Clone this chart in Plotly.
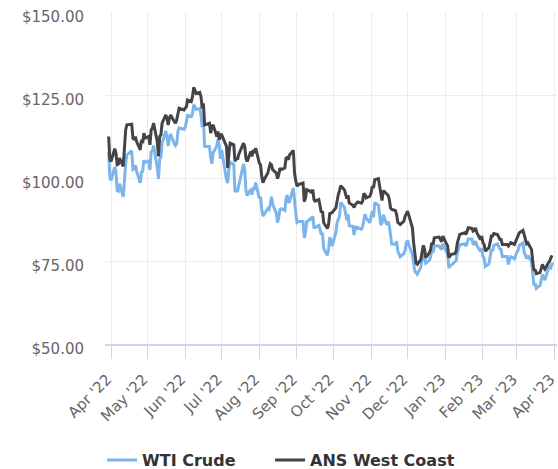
import pandas as pd
import plotly.graph_objects as go

# trading days from 2022-03-30 to 2023-03-31 (NYMEX holidays removed)
HOLIDAYS = [
    "2022-04-15", "2022-05-30", "2022-06-20", "2022-07-04", "2022-09-05",
    "2022-11-24", "2022-12-26", "2023-01-02", "2023-01-16", "2023-02-20",
]
days = pd.bdate_range("2022-03-30", "2023-03-31")
days = days[~days.isin(pd.to_datetime(HOLIDAYS))]

# WTI Crude, $/bbl
wti = [
    107.82, 100.28,
    99.27, 103.28, 101.96, 96.23, 96.03, 98.26, 94.29, 100.60, 104.25, 106.95,
    108.21, 102.56, 102.75, 103.79, 102.07, 98.54, 101.70, 102.02, 105.36, 104.69,
    105.17, 102.41, 107.81, 108.26, 109.77, 103.09, 99.76, 105.71, 106.13, 110.49,
    114.20, 112.40, 109.59, 112.21, 113.23, 110.29, 109.77, 110.33, 114.09, 115.07, 114.67,
    115.26, 116.87, 118.87, 118.50, 119.41, 122.11, 121.51, 120.67, 120.93, 118.93,
    115.31, 117.59, 109.56, 109.52, 106.19, 104.27, 107.62, 109.57, 111.76, 109.78, 105.76,
    108.43, 99.50, 98.53, 102.73, 104.79, 104.09, 95.84, 96.30, 95.78, 97.59,
    102.60, 104.22, 102.26, 96.35, 94.70, 96.70, 94.98, 97.26, 96.42, 98.62,
    93.89, 94.42, 90.66, 88.54, 89.01, 90.76, 90.50, 91.93, 94.34, 92.09, 89.41, 86.53,
    88.11, 90.50, 90.77, 90.23, 93.74, 94.89, 92.52, 93.06, 97.01, 91.64, 89.55,
    86.61, 86.87, 86.88, 81.94, 83.54, 86.79, 87.78, 87.31, 88.48, 85.10, 85.11,
    85.73, 84.45, 82.94, 83.49, 78.74, 76.71, 78.50, 82.15, 81.23, 79.49,
    83.63, 86.52, 87.76, 88.45, 92.64, 91.13, 89.35, 87.27, 89.11, 85.61, 85.46,
    82.82, 85.55, 84.51, 85.05, 84.58, 85.32, 87.91, 89.08, 87.90, 86.53,
    88.37, 90.00, 88.17, 92.61, 91.79, 88.91, 85.83, 86.47, 88.96, 85.87, 86.92,
    85.59, 81.64, 80.08, 80.04, 80.95, 77.94, 76.28, 77.24, 78.20, 80.55,
    81.22, 79.98, 76.93, 74.25, 72.01, 71.46, 71.02, 73.17, 75.39, 77.28, 76.11,
    74.29, 75.19, 76.23, 78.29, 77.49, 79.56, 79.53, 78.96, 78.40, 80.26,
    76.93, 72.84, 73.67, 73.77, 74.63, 75.12, 77.41, 78.39, 79.86, 80.18,
    79.48, 80.33, 81.64, 81.62, 80.13, 80.15, 81.01, 79.68, 77.90, 78.87,
    76.41, 75.88, 73.39, 74.11, 77.14, 78.47, 78.06, 79.72, 80.14, 79.06,
    78.59, 78.49, 76.34, 76.36, 73.95, 75.39, 76.32, 75.68, 77.05,
    77.69, 78.16, 79.68, 80.46, 77.58, 76.66, 75.72, 76.68, 74.80, 71.33, 67.61, 68.35,
    66.74, 67.64, 69.33, 70.90, 69.96, 69.26, 72.81, 73.20, 72.97, 74.37, 73.80,
]

# ANS West Coast, $/bbl (last print is a day earlier)
ans = [
    112.5, 105.5,
    105.0, 108.8, 107.5, 104.0, 104.2, 106.0, 103.5, 110.5, 114.5, 116.0,
    116.2, 112.0, 111.5, 112.5, 111.0, 108.5, 111.5, 110.5, 113.5, 112.0,
    112.5, 110.0, 114.5, 115.0, 116.5, 111.0, 106.5, 112.5, 113.0, 116.5,
    119.0, 118.0, 116.0, 118.0, 119.0, 117.0, 116.5, 117.5, 120.0, 121.0, 120.5,
    121.0, 121.5, 123.5, 123.0, 124.5, 127.3, 126.5, 125.5, 125.8, 124.5,
    121.0, 122.5, 116.0, 116.5, 113.5, 115.5, 116.0, 112.5, 114.0, 111.5, 113.0,
    113.0, 109.5, 103.0, 107.5, 110.5, 110.0, 105.0, 106.0, 105.5, 107.0,
    110.0, 110.5, 109.5, 106.0, 105.0, 108.0, 106.5, 108.5, 107.5, 109.0,
    104.5, 104.0, 100.5, 98.6, 99.5, 101.5, 103.0, 104.3, 104.0, 102.5, 101.5, 99.8,
    101.0, 103.0, 102.5, 103.0, 106.0, 106.2, 105.5, 107.0, 108.3, 101.5, 99.2,
    97.5, 98.0, 98.5, 92.9, 94.0, 96.5, 96.0, 95.5, 96.5, 93.5, 93.0,
    93.5, 92.0, 89.6, 90.0, 86.5, 84.8, 86.0, 89.3, 89.5, 89.6,
    91.0, 93.2, 95.0, 96.2, 97.7, 96.5, 95.0, 93.8, 94.8, 92.5, 91.8,
    91.1, 92.0, 92.6, 92.8, 92.4, 93.0, 95.3, 95.0, 94.0, 94.5,
    95.5, 97.5, 97.0, 99.5, 99.8, 97.5, 94.5, 93.2, 96.2, 95.3, 94.8,
    93.5, 91.0, 90.5, 90.2, 89.0, 86.6, 86.0, 87.0, 88.5, 89.5,
    90.0, 88.8, 85.0, 80.5, 76.0, 74.3, 74.0, 75.5, 77.8, 79.7, 78.5,
    76.0, 77.5, 78.5, 80.5, 80.0, 82.0, 82.2, 81.5, 80.8, 82.5,
    79.5, 76.0, 76.5, 77.0, 77.2, 78.0, 80.5, 81.5, 83.0, 83.5,
    83.0, 84.0, 85.0, 84.8, 84.0, 84.2, 85.0, 83.5, 81.5, 82.5,
    80.5, 80.0, 78.0, 79.0, 81.5, 82.5, 82.5, 83.3, 83.0, 82.0,
    81.5, 81.5, 80.0, 80.0, 79.5, 80.0, 80.5, 80.0, 81.0,
    81.5, 82.5, 83.5, 84.2, 83.0, 81.5, 80.2, 80.5, 78.5, 75.0, 72.1,
    72.5, 71.2, 71.5, 73.0, 74.0, 73.0, 72.5, 74.5, 75.0, 76.0, 76.7,
]

price_ticks = [50, 75, 100, 125, 150]
price_labels = ["$50.00", "$75.00", "$100.00", "$125.00", "$150.00"]

# name, values, colour, legend id, legend left edge (fraction of page width)
SERIES = [
    ("WTI Crude", wti, "#7cb5ec", "legend", 0.183),
    ("ANS West Coast", ans, "#434348", "legend2", 0.484),
]

FONT = "DejaVu Sans"
GRID = "#ececec"
AXIS = "#ccd6eb"

fig = go.Figure()
legends = {}
for name, values, color, leg, left in SERIES:
    fig.add_trace(go.Scatter(
        x=days[:len(values)], y=values, name=name, mode="lines",
        line=dict(color=color, width=3), legend=leg,
    ))
    # one legend box per series, so the gap between entries can match
    legends[leg] = dict(
        orientation="h",
        xref="container", x=left, xanchor="left",
        yref="container", y=0.019, yanchor="middle",
        itemwidth=30,
        font=dict(family=FONT, size=16, color="#333333", weight="bold"),
    )

fig.update_layout(
    width=558, height=469,
    margin=dict(l=105, r=1, t=12, b=125),
    paper_bgcolor="white", plot_bgcolor="white",
    showlegend=True,
    **legends,
)

fig.update_xaxes(
    type="date", range=["2022-03-27", "2023-04-03"], automargin=False,
    tick0="2022-04-01", dtick="M1", tickformat="%b '%y", tickangle=-45,
    ticks="outside", ticklen=13, tickcolor=AXIS, tickwidth=1,
    showline=True, linecolor=AXIS, linewidth=1.5,
    showgrid=True, gridcolor=GRID, gridwidth=1,
    ticklabelstandoff=6, ticklabelshift=-4, ticklabeloverflow="allow",
    tickfont=dict(family=FONT, size=15, color="#666666"),
)
fig.update_yaxes(
    range=[50, 150], automargin=False,
    tickvals=price_ticks, ticktext=price_labels,
    showgrid=True, gridcolor=GRID, gridwidth=1, zeroline=False, showline=False,
    ticklabelstandoff=20, ticklabelshift=5, ticklabeloverflow="allow",
    tickfont=dict(family=FONT, size=15, color="#666666"),
)

# the page body has a default 8px margin; drop it so the chart sits at 0,0
fig.write_html(
    "out.html",
    config={"displayModeBar": False},
    post_script="document.body.style.margin = '0px';",
)
